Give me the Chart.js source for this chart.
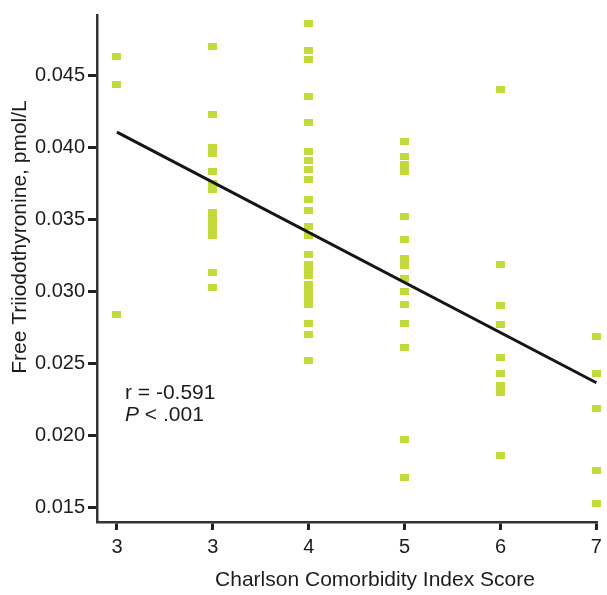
<!DOCTYPE html>
<html>
<head>
<meta charset="utf-8">
<script src="https://cdn.jsdelivr.net/npm/chart.js@4.4.1/dist/chart.umd.min.js"></script>
<style>
  html, body { margin: 0; padding: 0; background: #fff; }
  #wrap { width: 607px; height: 595px; }
</style>
</head>
<body>
<div id="wrap"><canvas id="grafico" width="607" height="595"></canvas></div>
<script>
// --- DADOS ---
const scoreTicks = [2, 3, 4, 5, 6, 7];
const scoreTickLabels = ['3', '3', '4', '5', '6', '7'];
const yTicks = [0.015, 0.020, 0.025, 0.030, 0.035, 0.040, 0.045];

const ft3Score2 = [0.0463, 0.0444, 0.0284];
const ft3Score3 = [0.0470, 0.0423, 0.0400, 0.0396, 0.0383, 0.0375, 0.0371, 0.0355, 0.0351, 0.0347, 0.0343, 0.0339, 0.0313, 0.0303];
const ft3Score4 = [0.0486, 0.0467, 0.0461, 0.0435, 0.0417, 0.0397, 0.0391, 0.0385, 0.0378, 0.0364, 0.0356, 0.0345, 0.0339, 0.0326, 0.0319, 0.0315, 0.0311, 0.0305, 0.0300, 0.0295, 0.0291, 0.0278, 0.0270, 0.0252];
const ft3Score5 = [0.0404, 0.0394, 0.0388, 0.0383, 0.0352, 0.0336, 0.0323, 0.0318, 0.0309, 0.0300, 0.0291, 0.0278, 0.0261, 0.0197, 0.0171];
const ft3Score6 = [0.0440, 0.0319, 0.0290, 0.0277, 0.0254, 0.0243, 0.0235, 0.0230, 0.0186];
const ft3Score7 = [0.0269, 0.0243, 0.0219, 0.0176, 0.0153];

const fitX = [2, 7];
const fitY = [0.04106, 0.02367];

const statsLines = ['r = -0.591', 'P < .001'];

// --- MONTAGEM ---
const grupos = [ft3Score2, ft3Score3, ft3Score4, ft3Score5, ft3Score6, ft3Score7];
const pontos = [];
grupos.forEach((vals, i) => vals.forEach(v => pontos.push({ x: scoreTicks[i], y: v })));
const linhaAjuste = fitX.map((x, i) => ({ x: x, y: fitY[i] }));

const corPonto = '#c4d93b';
const marcador = document.createElement('canvas');
marcador.width = 9;
marcador.height = 7;
const mctx = marcador.getContext('2d');
mctx.fillStyle = corPonto;
mctx.fillRect(0, 0, 9, 7);

const corTexto = '#1e1b1c';
const fonte = '"Liberation Sans", Arial, Helvetica, sans-serif';

const textosPlugin = {
    id: 'textos',
    afterDraw(chart) {
        const { ctx, chartArea } = chart;
        ctx.save();
        ctx.fillStyle = corTexto;
        ctx.textBaseline = 'middle';
        // anotação r / P
        ctx.font = `21px ${fonte}`;
        ctx.textAlign = 'left';
        const ax = chartArea.left + 28;
        ctx.fillText(statsLines[0], ax, 393);
        ctx.font = `italic 21px ${fonte}`;
        ctx.fillText('P', ax, 415);
        const wP = ctx.measureText('P').width;
        ctx.font = `21px ${fonte}`;
        ctx.fillText(statsLines[1].slice(1), ax + wP, 415);
        // títulos dos eixos
        ctx.textAlign = 'center';
        ctx.fillText('Charlson Comorbidity Index Score', 375, 580);
        ctx.translate(20, 237);
        ctx.rotate(-Math.PI / 2);
        ctx.fillText('Free Triiodothyronine, pmol/L', 0, 0);
        ctx.restore();
    }
};

const fundoPlugin = {
    id: 'fundo',
    beforeDraw(chart) {
        const ctx = chart.ctx;
        ctx.save();
        ctx.fillStyle = '#fff';
        ctx.fillRect(0, 0, chart.width, chart.height);
        ctx.restore();
    }
};

new Chart(document.getElementById('grafico').getContext('2d'), {
    type: 'scatter',
    data: {
        datasets: [
            {
                type: 'line',
                label: 'Ajuste',
                data: linhaAjuste,
                borderColor: '#151515',
                borderWidth: 3,
                pointRadius: 0,
                fill: false,
                clip: false,
                order: 0
            },
            {
                label: 'FT3',
                data: pontos,
                pointStyle: marcador,
                pointRadius: 5,
                clip: false,
                order: 1
            }
        ]
    },
    options: {
        responsive: false,
        animation: false,
        layout: { padding: { left: 0, right: 9, top: 10, bottom: 0 } },
        plugins: { legend: { display: false }, tooltip: { enabled: false } },
        scales: {
            x: {
                type: 'linear',
                min: 1.792,
                max: 7.01,
                afterFit: s => { s.height = 73; },
                afterBuildTicks: s => { s.ticks = scoreTicks.map(v => ({ value: v })); },
                border: { display: true, color: '#333', width: 2.5 },
                grid: { display: true, drawOnChartArea: false, drawTicks: true, tickLength: 8, tickWidth: 3, tickColor: '#222' },
                ticks: {
                    color: corTexto,
                    padding: 5,
                    font: { family: fonte, size: 20 },
                    callback: (v, i) => scoreTickLabels[i]
                }
            },
            y: {
                type: 'linear',
                min: 0.014003,
                max: 0.04919,
                afterFit: s => { s.width = 97; },
                afterBuildTicks: s => { s.ticks = yTicks.map(v => ({ value: v })); },
                border: { display: true, color: '#333', width: 2.5 },
                grid: { display: true, drawOnChartArea: false, drawTicks: true, tickLength: 9, tickWidth: 3, tickColor: '#222' },
                ticks: {
                    color: corTexto,
                    padding: 3,
                    font: { family: fonte, size: 20 },
                    callback: v => v.toFixed(3)
                }
            }
        }
    },
    plugins: [fundoPlugin, textosPlugin]
});
</script>
</body>
</html>
